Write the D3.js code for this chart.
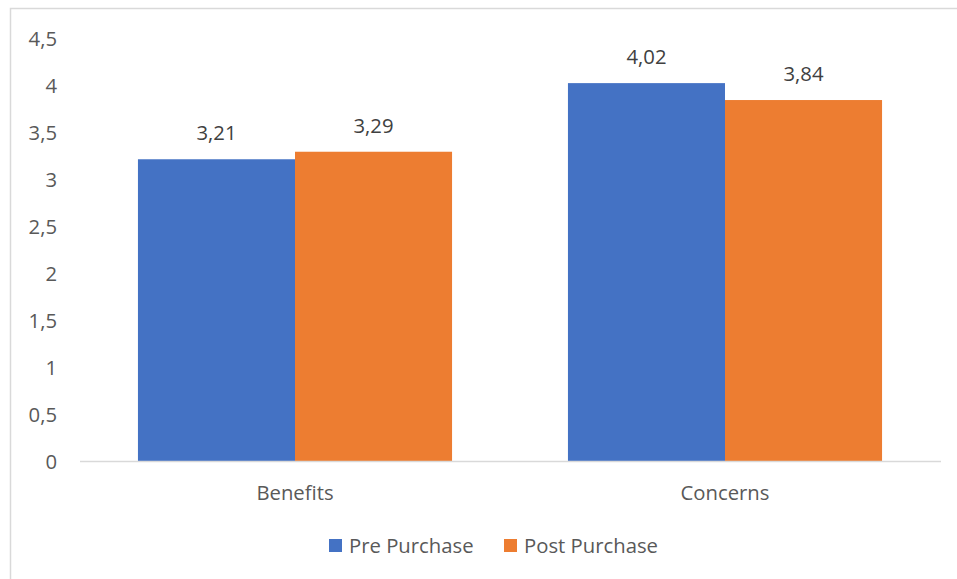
<!DOCTYPE html>
<html><head><meta charset="utf-8">
<script src="https://cdn.jsdelivr.net/npm/d3@7"></script>
<style>body{margin:0;background:#fff;} text{font-family:"Open Sans", Lato, sans-serif;}</style>
</head><body>
<svg id="c" width="957" height="579"></svg>
<script>
const categories = ["Benefits", "Concerns"];
const seriesNames = ["Pre Purchase", "Post Purchase"];
const prePurchase = [3.21, 4.02];
const postPurchase = [3.29, 3.84];
const yTicks = [0, 0.5, 1, 1.5, 2, 2.5, 3, 3.5, 4, 4.5];
const colors = ["#4472C4", "#ED7D31"];
const FS = 20.3;

const svg = d3.select("#c");
const fmt = v => String(v).replace(".", ",");

svg.append("rect").attr("x", 10.5).attr("y", 8.5).attr("width", 960).attr("height", 600)
  .attr("fill", "#fff").attr("stroke", "#d9d9d9").attr("stroke-width", 1.5);

const x0 = d3.scaleBand().domain(categories).range([80, 940]).paddingInner(0).paddingOuter(0);
const x1 = d3.scaleBand().domain(seriesNames).range([0, x0.bandwidth()]).paddingInner(0).paddingOuter(0.369);
const y = d3.scaleLinear().domain([0, 4.5]).range([461, 38]);

const yAxis = d3.axisLeft(y).tickValues(yTicks).tickFormat(fmt).tickSize(0).tickPadding(0);
const gy = svg.append("g").attr("transform", "translate(57,0)").call(yAxis);
gy.select(".domain").remove();
gy.selectAll("text").attr("fill", "#595959").attr("font-size", FS).attr("dy", "0.35em");

const data = categories.map((c, i) => ({cat: c, vals: [prePurchase[i], postPurchase[i]]}));
const g = svg.append("g").selectAll("g").data(data).join("g")
  .attr("transform", d => `translate(${x0(d.cat)},0)`);
g.selectAll("rect").data(d => d.vals.map((v, j) => ({s: seriesNames[j], v, j})))
  .join("rect")
  .attr("x", d => x1(d.s)).attr("width", x1.bandwidth())
  .attr("y", d => y(d.v)).attr("height", d => y(0) - y(d.v))
  .attr("fill", d => colors[d.j]);
g.selectAll("text.lbl").data(d => d.vals.map((v, j) => ({s: seriesNames[j], v, j})))
  .join("text").attr("class", "lbl")
  .attr("x", d => x1(d.s) + x1.bandwidth() / 2).attr("y", d => y(d.v) - 19)
  .attr("text-anchor", "middle").attr("font-size", FS).attr("fill", "#404040")
  .text(d => fmt(d.v));

svg.append("line").attr("x1", 80).attr("x2", 941).attr("y1", 461.5).attr("y2", 461.5)
  .attr("stroke", "#d9d9d9").attr("stroke-width", 1.5);

const xAxis = d3.axisBottom(x0).tickSize(0).tickPadding(0);
const gx = svg.append("g").attr("transform", "translate(0,461)").call(xAxis);
gx.select(".domain").remove();
gx.selectAll("text").attr("fill", "#595959").attr("font-size", FS).attr("dy", 0).attr("y", 39);

const legX = [329, 504];
const leg = svg.append("g").selectAll("g").data(seriesNames).join("g")
  .attr("transform", (d, i) => `translate(${legX[i]},539)`);
leg.append("rect").attr("width", 13).attr("height", 13).attr("fill", (d, i) => colors[i]);
leg.append("text").attr("x", 20).attr("y", 13.5).attr("font-size", FS).attr("fill", "#595959").text(d => d);
</script>
</body></html>
